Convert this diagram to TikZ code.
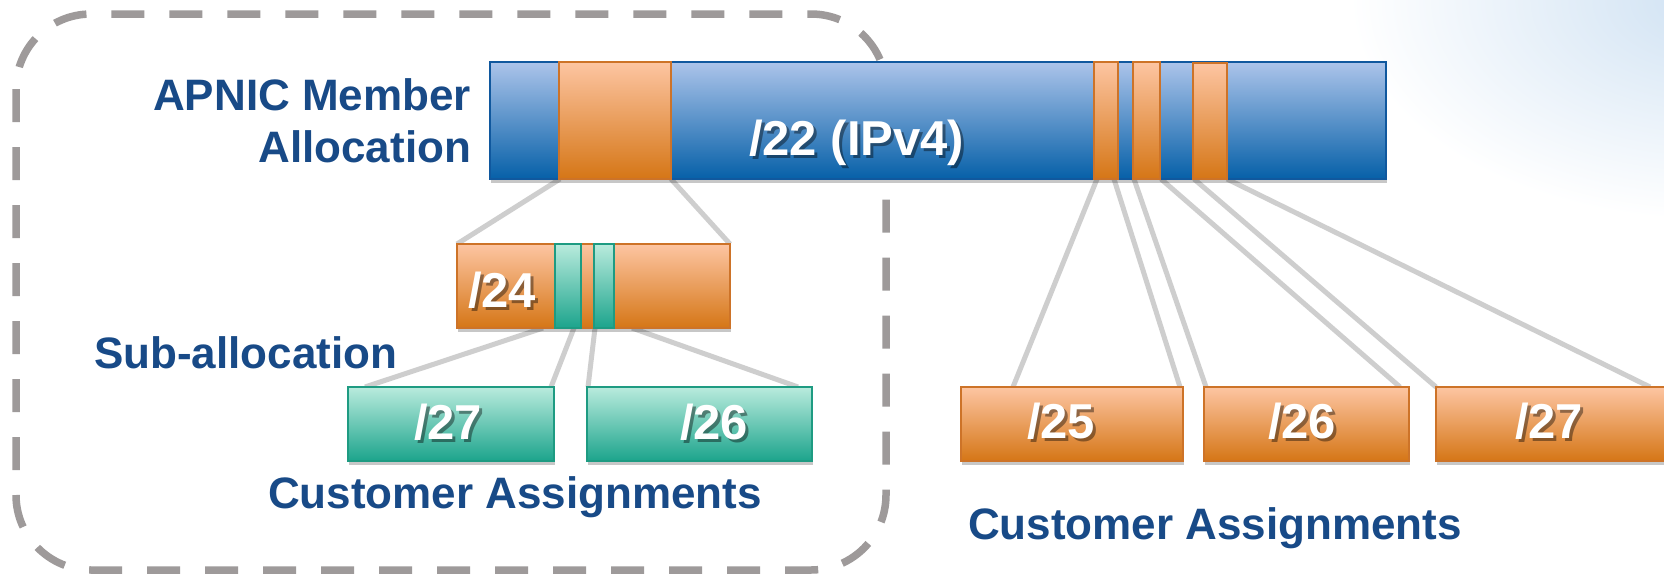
\documentclass[tikz,border=0pt]{standalone}
\usepackage{fontspec}
\setmainfont{Liberation Sans}
\usetikzlibrary{shadows,calc}
\pgfdeclarelayer{bg}
\pgfdeclarelayer{lines}
\pgfsetlayers{bg,lines,main}
\definecolor{dashgray}{RGB}{158,154,154}
\definecolor{conngray}{RGB}{206,206,206}
\definecolor{lblblue}{RGB}{24,74,135}
\definecolor{blueTop}{RGB}{172,196,234}
\definecolor{blueBot}{RGB}{6,96,168}
\definecolor{blueBorder}{RGB}{16,88,158}
\definecolor{orTop}{RGB}{253,197,162}
\definecolor{orBot}{RGB}{213,118,22}
\definecolor{orBorder}{RGB}{205,115,40}
\definecolor{tlTop}{RGB}{185,235,221}
\definecolor{tlBot}{RGB}{28,164,140}
\definecolor{tlBorder}{RGB}{30,155,130}
\definecolor{glow}{RGB}{208,226,243}
\tikzset{
  box/.style={anchor=north west, inner sep=0pt, outer sep=0pt, line width=1.5pt},
  shad/.style={drop shadow={shadow xshift=1pt, shadow yshift=-4pt, opacity=0.22, fill=black}},
  bluebox/.style={box, shad, draw=blueBorder, top color=blueTop, bottom color=blueBot},
  orbox/.style={box, draw=orBorder, top color=orTop, bottom color=orBot},
  orboxs/.style={orbox, shad},
  tlbox/.style={box, draw=tlBorder, top color=tlTop, bottom color=tlBot},
  tlboxs/.style={tlbox, shad},
  conn/.style={draw=conngray, line width=5pt},
  grp/.style={draw=dashgray, line width=7.5pt, dash pattern=on 33pt off 25pt, rounded corners=75pt},
  lbl/.style={text=lblblue, font=\fontsize{44}{52}\selectfont\bfseries, inner sep=0pt, outer sep=0pt},
  wl/.style={text=white, font=\fontsize{49}{58}\selectfont\bfseries, inner sep=0pt, outer sep=0pt, anchor=base west},
  wls/.style={text=black, opacity=0.4, font=\fontsize{49}{58}\selectfont\bfseries, inner sep=0pt, outer sep=0pt, anchor=base west}
}
\begin{document}
\begin{tikzpicture}[x=1pt,y=-1pt]
\useasboundingbox (0,0) rectangle (1664,573);
\clip (0,0) rectangle (1664,573);
\begin{pgfonlayer}{bg}
\fill[white] (0,0) rectangle (1664,573);
\shade[inner color=glow, outer color=white] (1710,0) ellipse [x radius=360, y radius=220];
\draw[grp] (16,14) rectangle (886,570);
\end{pgfonlayer}
% boxes
\node[bluebox, minimum width=896pt, minimum height=117pt] (bar22) at (490,62) {};
\node[orbox, minimum width=112pt, minimum height=117pt] (o1) at (559,62) {};
\node[orbox, minimum width=24pt, minimum height=117pt] (o2) at (1094,62) {};
\node[orbox, minimum width=27pt, minimum height=117pt] (o3) at (1133,62) {};
\node[orbox, minimum width=34pt, minimum height=116pt] (o4) at (1193,63) {};
\node[orboxs, minimum width=273pt, minimum height=84pt] (bar24) at (457,244) {};
\node[tlbox, minimum width=26pt, minimum height=84pt] (t1) at (555,244) {};
\node[tlbox, minimum width=20pt, minimum height=84pt] (t2) at (594,244) {};
\node[tlboxs, minimum width=206pt, minimum height=74pt] (c27) at (348,387) {};
\node[tlboxs, minimum width=225pt, minimum height=74pt] (c26) at (587,387) {};
\node[orboxs, minimum width=222pt, minimum height=74pt] (a25) at (961,387) {};
\node[orboxs, minimum width=205pt, minimum height=74pt] (a26) at (1204,387) {};
\node[orboxs, minimum width=234pt, minimum height=74pt] (a27) at (1436,387) {};
% connectors
\begin{pgfonlayer}{lines}
\draw[conn] ([xshift=1pt]o1.south west) -- (bar24.north west);
\draw[conn] (o1.south east) -- (bar24.north east);
\draw[conn] ([xshift=-12pt]t1.south west) -- ([xshift=17pt]c27.north west);
\draw[conn] ([xshift=-7pt]t1.south east) -- ([xshift=-3pt]c27.north east);
\draw[conn] ([xshift=1pt]t2.south west) -- ([xshift=1pt]c26.north west);
\draw[conn] ([xshift=18pt]t2.south east) -- ([xshift=-14pt]c26.north east);
\draw[conn] ([xshift=3pt]o2.south west) -- ([xshift=52pt]a25.north west);
\draw[conn] ([xshift=-4pt]o2.south east) -- ([xshift=-3pt]a25.north east);
\draw[conn] ([xshift=1pt]o3.south west) -- ([xshift=2pt]a26.north west);
\draw[conn] ([xshift=1pt]o3.south east) -- ([xshift=-9pt]a26.north east);
\draw[conn] ([xshift=1pt]o4.south west) -- (a27.north west);
\draw[conn] (o4.south east) -- ([xshift=-20pt]a27.north east);
\end{pgfonlayer}
% labels
\node[lbl, anchor=base east] (lapnic) at (471,110) {APNIC Member};
\node[lbl, anchor=base east] (lalloc) at (471,162) {Allocation};
\node[lbl, anchor=base west] (lsub) at (94,368) {Sub-allocation};
\node[lbl, anchor=base west] (lcust1) at (268,508) {Customer Assignments};
\node[lbl, anchor=base west] (lcust2) at (968,539) {Customer Assignments};
% white labels with shadow
\node[wls] (s22) at (752,158) {/22 (IPv4)};
\node[wl] (w22) at (749,155) {/22 (IPv4)};
\node[wls] (s24) at (471,310) {/24};
\node[wl] (w24) at (468,307) {/24};
\node[wls] (s27a) at (417,442) {/27};
\node[wl] (w27a) at (414,439) {/27};
\node[wls] (s26a) at (683,442) {/26};
\node[wl] (w26a) at (680,439) {/26};
\node[wls] (s25) at (1030,441) {/25};
\node[wl] (w25) at (1027,438) {/25};
\node[wls] (s26b) at (1271,441) {/26};
\node[wl] (w26b) at (1268,438) {/26};
\node[wls] (s27b) at (1518,441) {/27};
\node[wl] (w27b) at (1515,438) {/27};
\end{tikzpicture}
\end{document}
